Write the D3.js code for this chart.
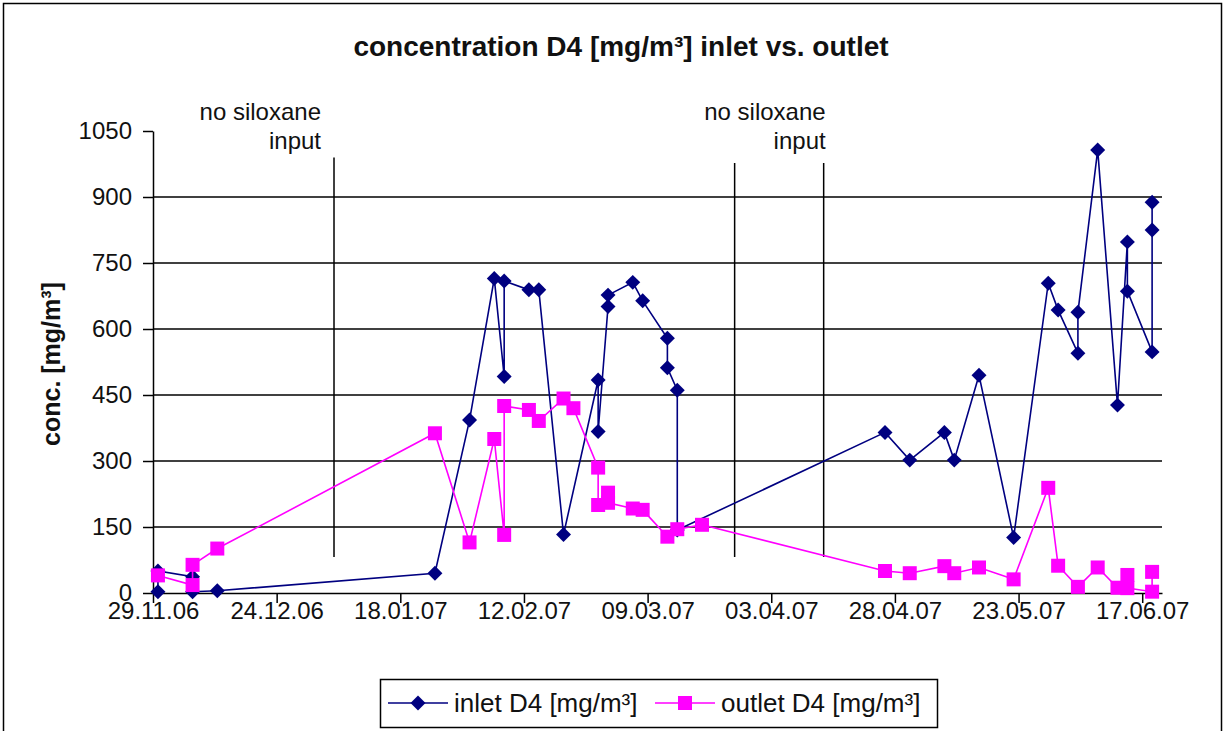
<!DOCTYPE html>
<html>
<head>
<meta charset="utf-8">
<script src="https://cdn.jsdelivr.net/npm/d3@7"></script>
<style>
  html, body { margin: 0; padding: 0; background: #fff; }
  svg { display: block; font-family: "Liberation Sans", Arial, sans-serif; }
</style>
</head>
<body>
<svg id="chart" width="1232" height="731"></svg>
<script>
// ---- data ----
const inletDates = ["30.11.06","30.11.06","07.12.06","07.12.06","12.12.06","25.01.07","01.02.07","06.02.07","08.02.07","08.02.07",
  "13.02.07","15.02.07","20.02.07","27.02.07","27.02.07","01.03.07","01.03.07","06.03.07","08.03.07","13.03.07","13.03.07",
  "15.03.07","15.03.07","26.04.07","01.05.07","08.05.07","10.05.07","15.05.07","22.05.07","29.05.07","31.05.07","04.06.07",
  "04.06.07","08.06.07","12.06.07","14.06.07","14.06.07","19.06.07","19.06.07","19.06.07"];
const inletValues = [3,50,37,3,5,45,393,715,492,709,
  689,689,133,484,367,651,677,706,664,579,512,
  461,143,365,302,365,302,495,126,704,643,545,
  638,1007,427,798,686,548,825,888];

const outletDates = ["30.11.06","07.12.06","07.12.06","12.12.06","25.01.07","01.02.07","06.02.07","08.02.07","08.02.07","13.02.07",
  "15.02.07","20.02.07","22.02.07","27.02.07","27.02.07","01.03.07","01.03.07","06.03.07","08.03.07","13.03.07","15.03.07",
  "20.03.07","26.04.07","01.05.07","08.05.07","10.05.07","15.05.07","22.05.07","29.05.07","31.05.07","04.06.07","08.06.07",
  "12.06.07","14.06.07","14.06.07","19.06.07","19.06.07"];
const outletValues = [40,18,64,101,363,115,350,132,425,416,
  391,442,420,285,200,228,205,192,189,128,145,
  155,50,45,61,45,58,31,239,62,14,58,
  12,41,11,3,48];

const xTickLabels = ["29.11.06","24.12.06","18.01.07","12.02.07","09.03.07","03.04.07","28.04.07","23.05.07","17.06.07"];
const yTicks = [0,150,300,450,600,750,900,1050];
const xDomain = ["29.11.06","21.06.07"];

const markerDates = ["05.01.07","27.03.07","14.04.07"];
const markerTops = [990,977,977];
const markerBottom = 82;
const noteLines = ["no siloxane","input"];
const noteDates = ["05.01.07","14.04.07"];

const title = "concentration D4 [mg/m\u00B3] inlet vs. outlet";
const yLabel = "conc. [mg/m\u00B3]";
const seriesNames = ["inlet D4 [mg/m\u00B3]","outlet D4 [mg/m\u00B3]"];

// ---- drawing ----
const parse = d3.timeParse("%d.%m.%y");
const fmt = d3.timeFormat("%d.%m.%y");
const svg = d3.select("#chart");

const x = d3.scaleTime().domain(xDomain.map(parse)).range([153, 1162]);
const y = d3.scaleLinear().domain([0, 1050]).range([593, 131]);

// outer frame
svg.append("rect").attr("x", 3.5).attr("y", 3.5).attr("width", 1218).attr("height", 800)
  .attr("fill", "none").attr("stroke", "#000").attr("stroke-width", 1.5);

// gridlines
svg.append("g").selectAll("line").data(yTicks.filter(v => v > 0 && v < 1050)).join("line")
  .attr("x1", 153).attr("x2", 1162).attr("y1", d => y(d)).attr("y2", d => y(d))
  .attr("stroke", "#000").attr("stroke-width", 1.6);

// annotation lines
svg.append("g").selectAll("line").data(markerDates).join("line")
  .attr("x1", d => x(parse(d)) - 2).attr("x2", d => x(parse(d)) - 2)
  .attr("y1", (d, i) => y(markerTops[i])).attr("y2", y(markerBottom))
  .attr("stroke", "#000").attr("stroke-width", 1.5);

noteDates.forEach((d, i) => {
  const xr = x(parse(d)) + (i === 0 ? -15 : 0);
  const t = svg.append("text").attr("text-anchor", "end").attr("font-size", 24).attr("fill", "#111");
  t.append("tspan").attr("x", xr).attr("y", 120).text(noteLines[0]);
  t.append("tspan").attr("x", xr).attr("y", 149).text(noteLines[1]);
});

// axes
const yAxis = d3.axisLeft(y).tickValues(yTicks).tickFormat(d3.format("d"))
  .tickSize(10).tickSizeOuter(0).tickPadding(11);
const gy = svg.append("g").attr("transform", "translate(153,0)").call(yAxis);
gy.selectAll("text").attr("font-size", 24).attr("font-family", "Liberation Sans, Arial, sans-serif").attr("fill", "#111");
gy.selectAll("line, path").attr("stroke", "#000").attr("stroke-width", 1.5);

const xAxis = d3.axisBottom(x).tickValues(xTickLabels.map(parse)).tickFormat(fmt).tickSize(10).tickSizeOuter(0);
const gx = svg.append("g").attr("transform", "translate(0,593)").call(xAxis);
gx.selectAll("text").attr("font-size", 24).attr("font-family", "Liberation Sans, Arial, sans-serif")
  .attr("fill", "#111").attr("y", 9);
gx.selectAll("line, path").attr("stroke", "#000").attr("stroke-width", 1.5);

// series
const inlet = inletDates.map((d, i) => ({ date: parse(d), v: inletValues[i] }));
const outlet = outletDates.map((d, i) => ({ date: parse(d), v: outletValues[i] }));
const line = d3.line().x(d => x(d.date)).y(d => y(d.v));

const navy = "#000080", magenta = "#FF00FF";
const diamond = d3.symbol().type(d3.symbolSquare).size(112);
const square = d3.symbol().type(d3.symbolSquare).size(196);

svg.append("path").datum(inlet).attr("d", line).attr("fill", "none").attr("stroke", navy).attr("stroke-width", 1.6);
svg.append("g").selectAll("path").data(inlet).join("path")
  .attr("d", diamond).attr("fill", navy)
  .attr("transform", d => `translate(${x(d.date)},${y(d.v)}) rotate(45)`);

svg.append("path").datum(outlet).attr("d", line).attr("fill", "none").attr("stroke", magenta).attr("stroke-width", 1.6);
svg.append("g").selectAll("path").data(outlet).join("path")
  .attr("d", square).attr("fill", magenta)
  .attr("transform", d => `translate(${x(d.date)},${y(d.v)})`);

// title and y label
svg.append("text").attr("x", 621).attr("y", 56).attr("text-anchor", "middle")
  .attr("font-size", 28).attr("font-weight", "bold").attr("fill", "#111").text(title);
svg.append("text").attr("transform", "translate(60,364) rotate(-90)").attr("text-anchor", "middle")
  .attr("font-size", 25).attr("font-weight", "bold").attr("fill", "#111").text(yLabel);

// legend
const lg = svg.append("g");
lg.append("rect").attr("x", 380.5).attr("y", 679.5).attr("width", 557).attr("height", 48)
  .attr("fill", "#fff").attr("stroke", "#000").attr("stroke-width", 1.5);
lg.append("line").attr("x1", 388).attr("x2", 448).attr("y1", 703).attr("y2", 703).attr("stroke", navy).attr("stroke-width", 1.6);
lg.append("path").attr("d", diamond).attr("fill", navy).attr("transform", "translate(418,703) rotate(45)");
lg.append("text").attr("x", 454).attr("y", 712).attr("font-size", 26).attr("fill", "#111").text(seriesNames[0]);
lg.append("line").attr("x1", 655).attr("x2", 715).attr("y1", 703).attr("y2", 703).attr("stroke", magenta).attr("stroke-width", 1.6);
lg.append("path").attr("d", square).attr("fill", magenta).attr("transform", "translate(685,703)");
lg.append("text").attr("x", 721).attr("y", 712).attr("font-size", 26).attr("fill", "#111").text(seriesNames[1]);
</script>
</body>
</html>
